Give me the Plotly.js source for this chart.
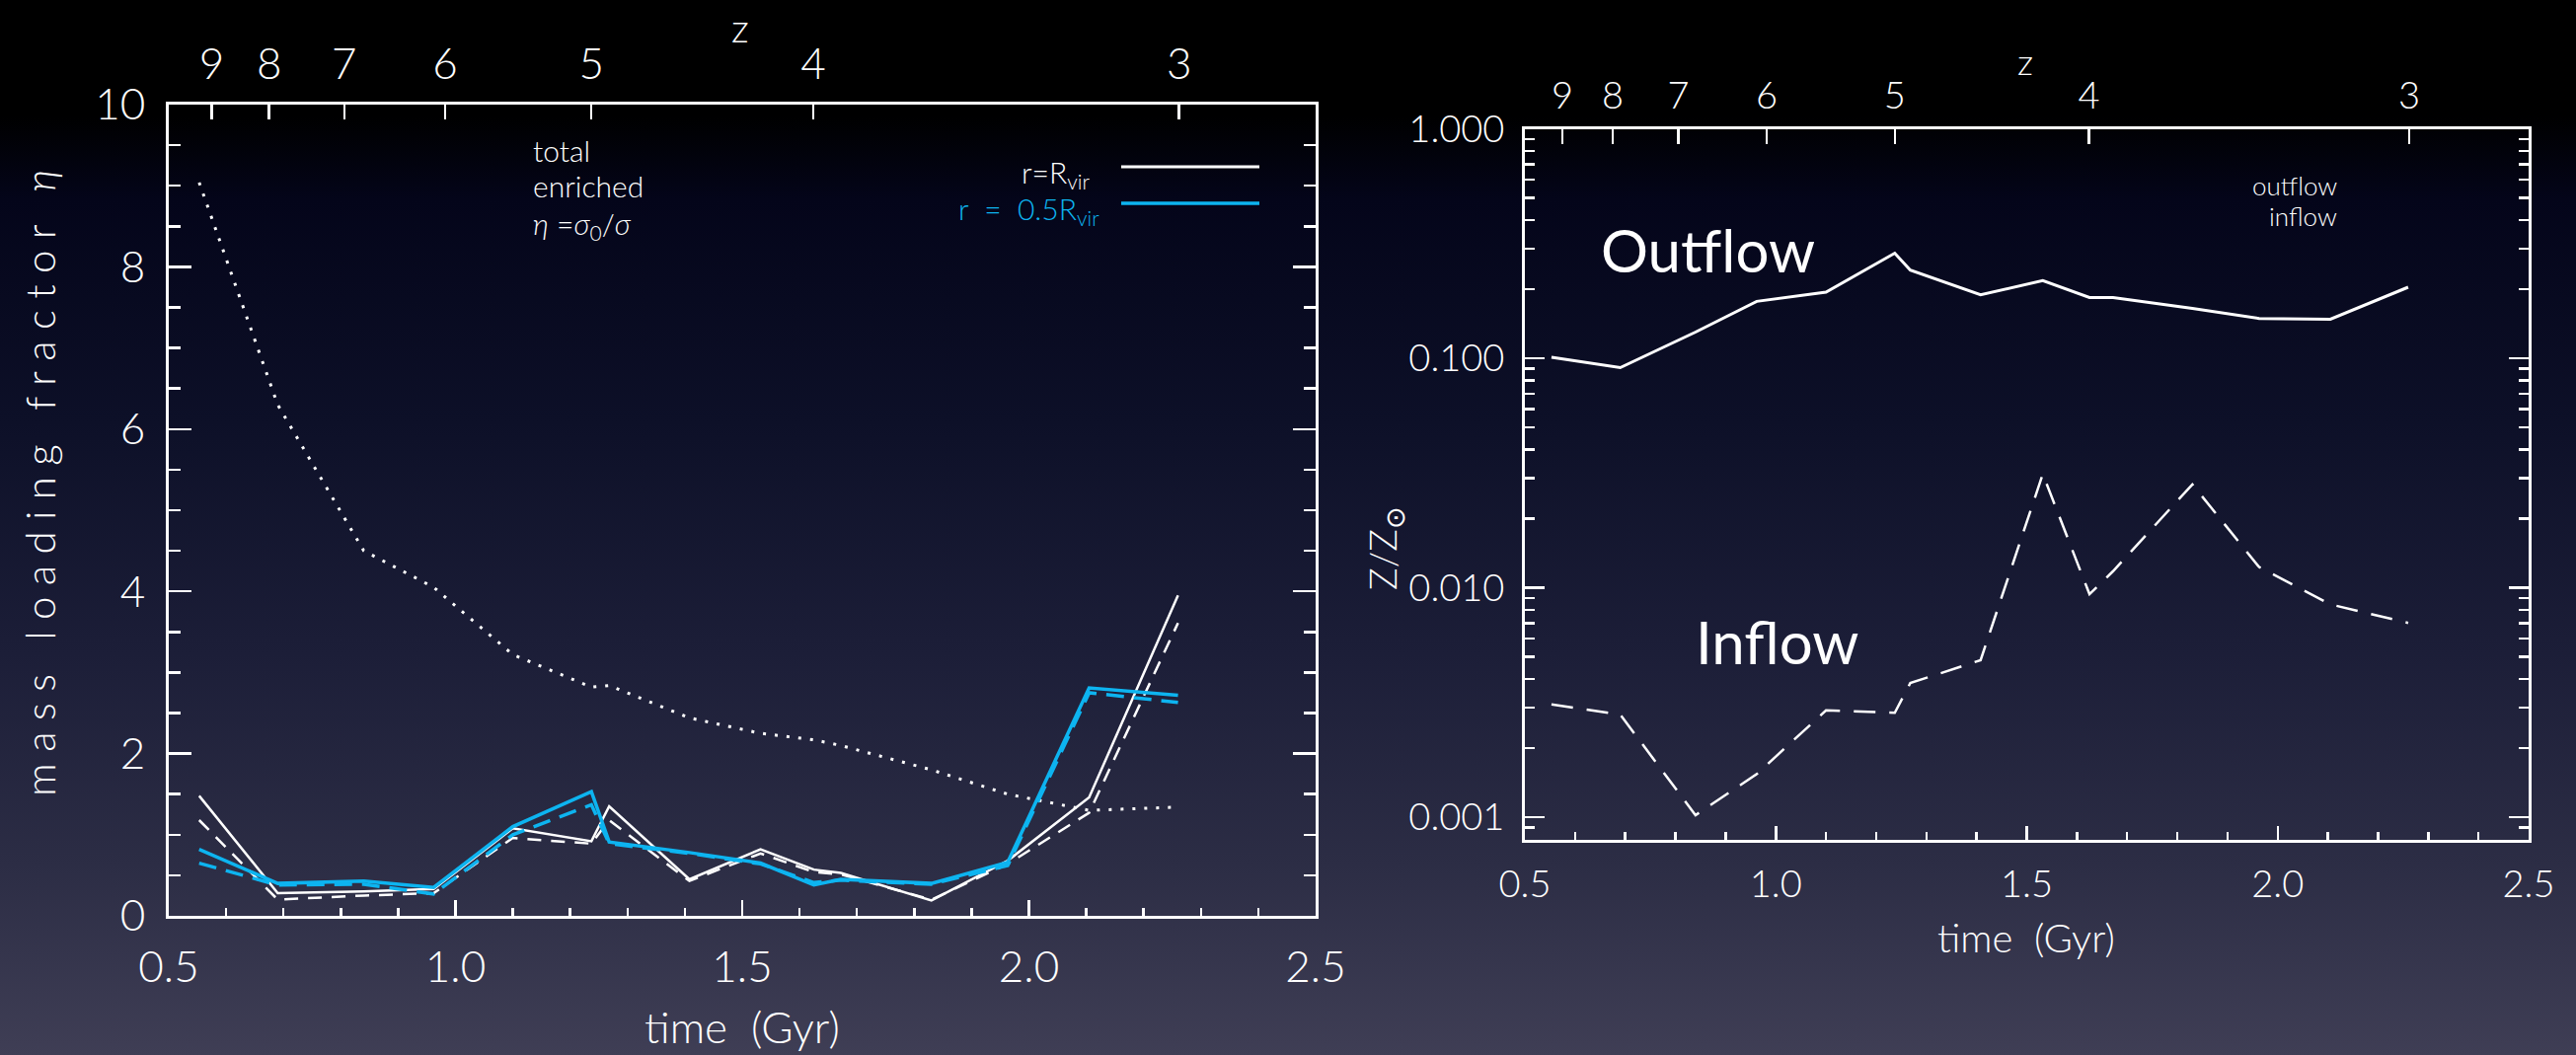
<!DOCTYPE html>
<html>
<head>
<meta charset="utf-8">
<script src="https://cdn.plot.ly/plotly-3.0.1.min.js"></script>
<style>
  html, body { margin: 0; padding: 0; width: 2610px; height: 1069px; overflow: hidden; }
  body { background: linear-gradient(to bottom, #000000 0%, #000000 11%, #04051a 19%, #0d1028 40%, #1c1e38 62%, #2c2d45 82%, #3f3e55 100%); }
  #chart { width: 2610px; height: 1069px; }
</style>
</head>
<body>
<div id="chart"></div>
<script>
// ---- data ----
const time = [0.553, 0.690, 0.840, 0.962, 1.100, 1.237, 1.268, 1.408, 1.532, 1.625, 1.672, 1.830, 1.963, 2.105, 2.260];

// left panel: mass loading factor
const etaTotalRvir     = [1.48, 0.28, 0.30, 0.33, 1.08, 0.92, 1.35, 0.45, 0.82, 0.57, 0.53, 0.19, 0.68, 1.46, 3.95];
const etaEnrichedRvir  = [1.18, 0.20, 0.25, 0.28, 0.96, 0.89, 1.18, 0.43, 0.77, 0.54, 0.51, 0.20, 0.64, 1.27, 3.61];
const etaTotalHalf     = [0.82, 0.40, 0.43, 0.35, 1.10, 1.53, 0.91, 0.78, 0.65, 0.38, 0.45, 0.40, 0.66, 2.81, 2.72];
const etaEnrichedHalf  = [0.65, 0.38, 0.39, 0.27, 1.00, 1.37, 0.89, 0.77, 0.64, 0.41, 0.44, 0.39, 0.62, 2.75, 2.63];
const etaRatio         = [9.04, 6.30, 4.50, 4.05, 3.22, 2.82, 2.84, 2.44, 2.25, 2.17, 2.10, 1.80, 1.50, 1.30, 1.34];

// right panel: metallicity Z/Zsun
const zOutflow = [0.101, 0.091, 0.130, 0.177, 0.194, 0.287, 0.242, 0.189, 0.218, 0.184, 0.184, 0.165, 0.149, 0.148, 0.204];
const zInflow  = [0.0031, 0.0028, 0.00102, 0.00154, 0.00292, 0.00285, 0.00384, 0.00483, 0.0313, 0.00937, 0.0118, 0.0282, 0.0123, 0.00846, 0.00702];

// redshift tick marks on the top axes
const redshiftTimes  = [0.575, 0.675, 0.806, 0.982, 1.237, 1.624, 2.262];
const redshiftLabels = ['9', '8', '7', '6', '5', '4', '3'];

// ---- styling ----
const FONT = 'Lato, "Open Sans", "DejaVu Sans", sans-serif';
const WHITE = '#ffffff';
const BLUE = '#0db4f0';
const W = 2610, H = 1069;
const px = x => x / W;
const py = y => 1 - y / H;
const f = (size, color, weight) => ({size: size, color: color || WHITE, family: FONT, weight: weight || 300});

const traces = [
  {x: time, y: etaRatio, xaxis: 'x', yaxis: 'y', mode: 'lines',
   line: {color: WHITE, width: 3, dash: '3px,9px'}, name: 'eta', hoverinfo: 'skip'},
  {x: time, y: etaEnrichedRvir, xaxis: 'x', yaxis: 'y', mode: 'lines',
   line: {color: WHITE, width: 2.5, dash: '14px,10px'}, name: 'enriched Rvir', hoverinfo: 'skip'},
  {x: time, y: etaTotalRvir, xaxis: 'x', yaxis: 'y', mode: 'lines',
   line: {color: WHITE, width: 2.5}, name: 'total Rvir', hoverinfo: 'skip'},
  {x: time, y: etaEnrichedHalf, xaxis: 'x', yaxis: 'y', mode: 'lines',
   line: {color: BLUE, width: 3.5, dash: '18px,10px'}, name: 'enriched 0.5Rvir', hoverinfo: 'skip'},
  {x: time, y: etaTotalHalf, xaxis: 'x', yaxis: 'y', mode: 'lines',
   line: {color: BLUE, width: 3.5}, name: 'total 0.5Rvir', hoverinfo: 'skip'},
  {x: time, y: zOutflow, xaxis: 'x2', yaxis: 'y2', mode: 'lines',
   line: {color: WHITE, width: 3}, name: 'outflow', hoverinfo: 'skip'},
  {x: time, y: zInflow, xaxis: 'x2', yaxis: 'y2', mode: 'lines',
   line: {color: WHITE, width: 2.5, dash: '22px,14px'}, name: 'inflow', hoverinfo: 'skip'},
  // carriers for the top redshift axes
  {x: redshiftTimes, y: redshiftTimes.map(() => null), xaxis: 'x3', yaxis: 'y', mode: 'lines', hoverinfo: 'skip', showlegend: false},
  {x: redshiftTimes, y: redshiftTimes.map(() => null), xaxis: 'x4', yaxis: 'y2', mode: 'lines', hoverinfo: 'skip', showlegend: false}
];

function baseAxis(extra) {
  return Object.assign({
    showgrid: false, zeroline: false, showline: true, linecolor: WHITE, linewidth: 3,
    ticks: 'inside', tickcolor: WHITE, tickwidth: 2.5, color: WHITE
  }, extra);
}

const leftDomX = [px(171), px(1333)];
const leftDomY = [py(928), py(106)];
const rightDomX = [px(1545), px(2562)];
const rightDomY = [py(850.5), py(130.5)];

const layout = {
  width: W, height: H,
  margin: {l: 0, r: 0, t: 0, b: 0},
  paper_bgcolor: 'rgba(0,0,0,0)',
  plot_bgcolor: 'rgba(0,0,0,0)',
  showlegend: false,
  font: {family: FONT, color: WHITE},
  xaxis: baseAxis({
    domain: leftDomX, anchor: 'y', range: [0.5, 2.5],
    tickmode: 'linear', tick0: 0.5, dtick: 0.5, tickformat: '.1f',
    ticklen: 16, mirror: true, ticklabelstandoff: 11,
    tickfont: f(44),
    minor: {tickmode: 'linear', tick0: 0.5, dtick: 0.1, ticklen: 8, tickwidth: 2.5, tickcolor: WHITE, ticks: 'inside', showgrid: false}
  }),
  yaxis: baseAxis({
    domain: leftDomY, anchor: 'x', range: [0, 10],
    tickmode: 'linear', tick0: 0, dtick: 2,
    ticklen: 23, mirror: 'ticks', ticklabelstandoff: 12,
    tickfont: f(44),
    minor: {tickmode: 'linear', tick0: 0, dtick: 0.5, ticklen: 12, tickwidth: 2.5, tickcolor: WHITE, ticks: 'inside', showgrid: false}
  }),
  xaxis3: baseAxis({
    overlaying: 'x', side: 'top', anchor: 'y', range: [0.5, 2.5], showline: false,
    tickmode: 'array', tickvals: redshiftTimes, ticktext: redshiftLabels,
    ticklen: 15, ticklabelstandoff: 16,
    tickfont: f(44)
  }),
  xaxis2: baseAxis({
    domain: rightDomX, anchor: 'y2', range: [0.5, 2.5],
    tickmode: 'linear', tick0: 0.5, dtick: 0.5, tickformat: '.1f',
    ticklen: 14, mirror: true, ticklabelstandoff: 10,
    tickfont: f(38),
    minor: {tickmode: 'linear', tick0: 0.5, dtick: 0.1, ticklen: 8, tickwidth: 2.5, tickcolor: WHITE, ticks: 'inside', showgrid: false}
  }),
  yaxis2: baseAxis({
    domain: rightDomY, anchor: 'x2', type: 'log', range: [Math.log10(0.0008), 0],
    tickmode: 'linear', tick0: 0, dtick: 1, tickformat: '.3f',
    ticklen: 20, mirror: 'ticks', ticklabelstandoff: 10,
    tickfont: f(38),
    minor: {dtick: 'D1', ticklen: 10, tickwidth: 2.5, tickcolor: WHITE, ticks: 'inside', showgrid: false}
  }),
  xaxis4: baseAxis({
    overlaying: 'x2', side: 'top', anchor: 'y2', range: [0.5, 2.5], showline: false,
    tickmode: 'array', tickvals: redshiftTimes, ticktext: redshiftLabels,
    ticklen: 15, ticklabelstandoff: 12,
    tickfont: f(38)
  }),
  shapes: [
    {type: 'line', xref: 'paper', yref: 'paper', x0: px(1136), x1: px(1276), y0: py(169), y1: py(169),
     line: {color: WHITE, width: 3}},
    {type: 'line', xref: 'paper', yref: 'paper', x0: px(1136), x1: px(1276), y0: py(206), y1: py(206),
     line: {color: BLUE, width: 3.5}}
  ],
  annotations: [
    {text: 'z', x: px(750), y: py(28), xref: 'paper', yref: 'paper', showarrow: false,
     xanchor: 'center', yanchor: 'middle', font: f(40)},
    {text: 'z', x: px(2052), y: py(62), xref: 'paper', yref: 'paper', showarrow: false,
     xanchor: 'center', yanchor: 'middle', font: f(36)},
    {text: 'time  (Gyr)', x: px(752), y: py(1040), xref: 'paper', yref: 'paper', showarrow: false,
     xanchor: 'center', yanchor: 'middle', font: f(44)},
    {text: 'time  (Gyr)', x: px(2053), y: py(950), xref: 'paper', yref: 'paper', showarrow: false,
     xanchor: 'center', yanchor: 'middle', font: f(40)},
    {text: 'm a s s   l o a d i n g   f r a c t o r   <i>η</i>', x: px(40), y: py(490), xref: 'paper', yref: 'paper', showarrow: false,
     textangle: -90, xanchor: 'center', yanchor: 'middle', font: f(42)},
    {text: 'Z/Z<sub>⊙</sub>', x: px(1403), y: py(556), xref: 'paper', yref: 'paper', showarrow: false,
     textangle: -90, xanchor: 'center', yanchor: 'middle', font: f(38)},
    {text: 'total', x: px(538), y: py(152), xref: 'paper', yref: 'paper', showarrow: false,
     xanchor: 'left', yanchor: 'middle', font: f(30)},
    {text: 'enriched', x: px(538), y: py(188), xref: 'paper', yref: 'paper', showarrow: false,
     xanchor: 'left', yanchor: 'middle', font: f(30)},
    {text: '<i>η</i> =<i>σ</i><sub>0</sub>/<i>σ</i>', x: px(538), y: py(228), xref: 'paper', yref: 'paper', showarrow: false,
     xanchor: 'left', yanchor: 'middle', font: f(30)},
    {text: 'r=R<sub>vir</sub>', x: px(1106), y: py(176), xref: 'paper', yref: 'paper', showarrow: false,
     xanchor: 'right', yanchor: 'middle', font: f(30)},
    {text: 'r  =  0.5R<sub>vir</sub>', x: px(1116), y: py(213), xref: 'paper', yref: 'paper', showarrow: false,
     xanchor: 'right', yanchor: 'middle', font: f(30, BLUE)},
    {text: 'Outflow', x: px(1620), y: py(253), xref: 'paper', yref: 'paper', showarrow: false,
     xanchor: 'left', yanchor: 'middle', font: f(60, WHITE, 400)},
    {text: 'Inflow', x: px(1716), y: py(650), xref: 'paper', yref: 'paper', showarrow: false,
     xanchor: 'left', yanchor: 'middle', font: f(60, WHITE, 400)},
    {text: 'outflow', x: px(2370), y: py(188), xref: 'paper', yref: 'paper', showarrow: false,
     xanchor: 'right', yanchor: 'middle', font: f(26)},
    {text: 'inflow', x: px(2370), y: py(219), xref: 'paper', yref: 'paper', showarrow: false,
     xanchor: 'right', yanchor: 'middle', font: f(26)}
  ]
};

Plotly.newPlot('chart', traces, layout, {staticPlot: true, displayModeBar: false});
</script>
</body>
</html>
